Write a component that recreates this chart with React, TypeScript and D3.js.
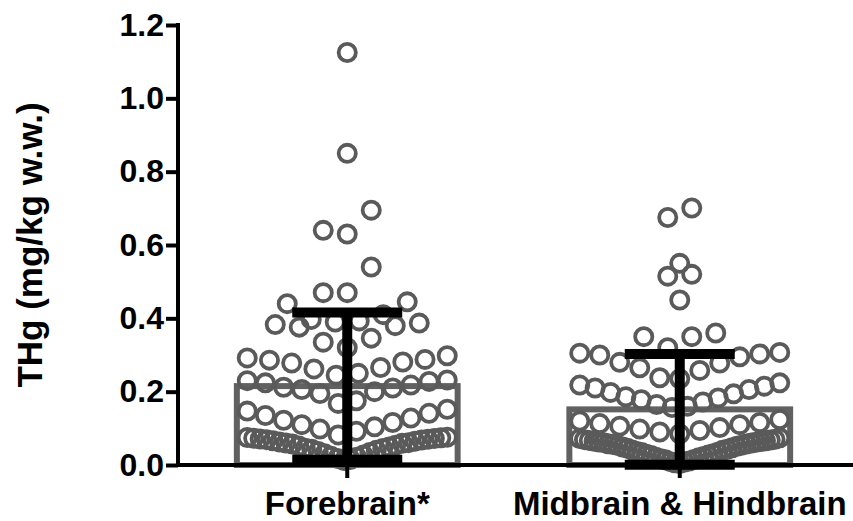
import React, { useEffect, useRef } from 'react';
import * as d3 from 'd3';

// groups on the x axis
const categories = ['Forebrain*', 'Midbrain & Hindbrain'];

// THg values (mg/kg w.w.)
const forebrain = [
  0.012, 0.015, 0.018, 0.021, 0.024, 0.027, 0.031, 0.034, 0.037, 0.04, 0.043, 0.045,
  0.046, 0.049, 0.052, 0.054, 0.057, 0.059, 0.06, 0.061, 0.063, 0.065, 0.066, 0.068,
  0.069, 0.07, 0.071, 0.072, 0.073, 0.074, 0.075, 0.076,
  0.082, 0.092, 0.098, 0.104, 0.11, 0.116, 0.122, 0.128, 0.135, 0.141, 0.147, 0.152,
  0.168, 0.175, 0.195, 0.2, 0.206, 0.21, 0.212, 0.218, 0.224, 0.228, 0.23, 0.232,
  0.245, 0.25, 0.262, 0.266, 0.278, 0.281, 0.286, 0.288, 0.292, 0.298,
  0.32, 0.335, 0.346,
  0.376, 0.38, 0.383, 0.387, 0.39, 0.393, 0.397, 0.41,
  0.44, 0.445, 0.47, 0.47,
  0.54, 0.63, 0.64, 0.695, 0.85, 1.125
];

const midbrain = [
  0.004, 0.006, 0.008, 0.009, 0.011, 0.014, 0.015, 0.017, 0.02, 0.021, 0.023, 0.026,
  0.027, 0.029, 0.031, 0.034, 0.035, 0.037, 0.04, 0.041, 0.043, 0.046, 0.047, 0.049,
  0.051, 0.053, 0.054, 0.056, 0.057, 0.058, 0.06, 0.061, 0.062, 0.063, 0.064, 0.065,
  0.066, 0.067, 0.068, 0.069, 0.07, 0.072, 0.074,
  0.085, 0.09, 0.094, 0.098, 0.102, 0.106, 0.11, 0.113, 0.116, 0.12, 0.124,
  0.157, 0.16, 0.165, 0.172, 0.178, 0.183, 0.186, 0.194, 0.198, 0.206, 0.21, 0.215, 0.218, 0.224,
  0.235, 0.238, 0.258, 0.265, 0.278, 0.28, 0.295, 0.3, 0.303, 0.305, 0.307,
  0.32, 0.35, 0.35, 0.36,
  0.45, 0.515, 0.52, 0.55, 0.675, 0.701
];

const groups = [forebrain, midbrain];
const yTicks = [0, 0.2, 0.4, 0.6, 0.8, 1.0, 1.2];

const W = 853;
const H = 521;
const FONT = '"Liberation Sans", Arial, Helvetica, sans-serif';

// prism-like column scatter: points binned into rows, smallest in the middle
function rowLayout(values: number[], bin: number, maxHalf: number, gap: number) {
  const rows = d3.group(values, v => Math.floor(v / bin));
  const out: { v: number; dx: number }[] = [];
  for (const [, row] of rows) {
    const sorted = row.slice().sort(d3.ascending);
    const n = sorted.length;
    const s = n > 1 ? Math.min(gap, (2 * maxHalf) / (n - 1)) : 0;
    const slots: number[] = [];
    if (n % 2) {
      slots.push(0);
      for (let k = 1; slots.length < n; k++) slots.push(-k * s, k * s);
    } else {
      for (let k = 0; slots.length < n; k++) slots.push(-(k + 0.5) * s, (k + 0.5) * s);
    }
    sorted.forEach((v, i) => out.push({ v, dx: slots[i] }));
  }
  return out;
}

export default function App() {
  const ref = useRef<SVGSVGElement>(null);

  useEffect(() => {
    const svg = d3.select(ref.current);
    svg.selectAll('*').remove();

    const margin = { top: 25, bottom: 56, left: 178 };
    const y = d3.scaleLinear().domain([0, 1.2]).range([H - margin.bottom, margin.top]);
    const x = d3.scaleBand<string>()
      .domain(categories)
      .range([margin.left, 849])
      .paddingInner(0.336)
      .paddingOuter(0.177);

    const grey = '#5a5a5a';

    groups.forEach((vals, gi) => {
      const cat = categories[gi];
      const x0 = x(cat) as number;
      const cx = x0 + x.bandwidth() / 2;
      const mean = d3.mean(vals) as number;
      const sd = d3.deviation(vals) as number;
      const g = svg.append('g');

      // mean bar (outline only)
      g.append('rect')
        .attr('x', x0)
        .attr('width', x.bandwidth())
        .attr('y', y(mean))
        .attr('height', y(0) - y(mean))
        .attr('fill', 'none')
        .attr('stroke', '#616161')
        .attr('stroke-width', 6);

      // individual points
      g.selectAll('circle')
        .data(rowLayout(vals, 0.078, 100, 24))
        .enter().append('circle')
        .attr('cx', d => cx + d.dx)
        .attr('cy', d => y(d.v))
        .attr('r', 8.6)
        .attr('fill', 'none')
        .attr('stroke', grey)
        .attr('stroke-width', 3.8);

      // SD error bar
      const lo = y(mean - sd);
      const hi = y(mean + sd);
      const capW = 55;
      g.append('line')
        .attr('x1', cx).attr('x2', cx)
        .attr('y1', lo).attr('y2', hi)
        .attr('stroke', '#000').attr('stroke-width', 10);
      [lo, hi].forEach(yy => {
        g.append('line')
          .attr('x1', cx - capW).attr('x2', cx + capW)
          .attr('y1', yy).attr('y2', yy)
          .attr('stroke', '#000').attr('stroke-width', 10);
      });
    });

    // y axis
    const yAxis = svg.append('g')
      .attr('transform', `translate(${margin.left},0)`)
      .call(
        d3.axisLeft(y)
          .tickValues(yTicks)
          .tickFormat(d3.format('.1f'))
          .tickSize(12)
          .tickSizeOuter(0)
          .tickPadding(2)
      );
    yAxis.select('.domain').remove();
    yAxis.selectAll('line').attr('stroke', '#000').attr('stroke-width', 4);
    yAxis.selectAll('text')
      .attr('font-family', FONT)
      .attr('font-weight', 'bold')
      .attr('font-size', 32)
      .attr('fill', '#000');
    svg.append('line')
      .attr('x1', margin.left).attr('x2', margin.left)
      .attr('y1', y(1.2) - 2).attr('y2', y(0) + 2)
      .attr('stroke', '#000').attr('stroke-width', 4);

    // x axis
    const xAxis = svg.append('g')
      .attr('transform', `translate(0,${y(0)})`)
      .call(d3.axisBottom(x).tickSize(13).tickSizeOuter(0).tickPadding(14));
    xAxis.select('.domain').remove();
    xAxis.selectAll('line').attr('stroke', '#000').attr('stroke-width', 4);
    xAxis.selectAll('text')
      .attr('font-family', FONT)
      .attr('font-weight', 'bold')
      .attr('font-size', 33)
      .attr('fill', '#000');
    svg.append('line')
      .attr('x1', margin.left - 2).attr('x2', W)
      .attr('y1', y(0)).attr('y2', y(0))
      .attr('stroke', '#000').attr('stroke-width', 4);

    // y axis title
    svg.append('text')
      .attr('transform', `translate(42,${(y(0) + y(1.2)) / 2}) rotate(-90)`)
      .attr('text-anchor', 'middle')
      .attr('font-family', FONT)
      .attr('font-weight', 'bold')
      .attr('font-size', 35)
      .attr('fill', '#000')
      .text('THg (mg/kg w.w.)');
  }, []);

  return (
    <svg
      ref={ref}
      width={W}
      height={H}
      style={{ position: 'absolute', left: 0, top: 0, background: '#fff' }}
    />
  );
}
